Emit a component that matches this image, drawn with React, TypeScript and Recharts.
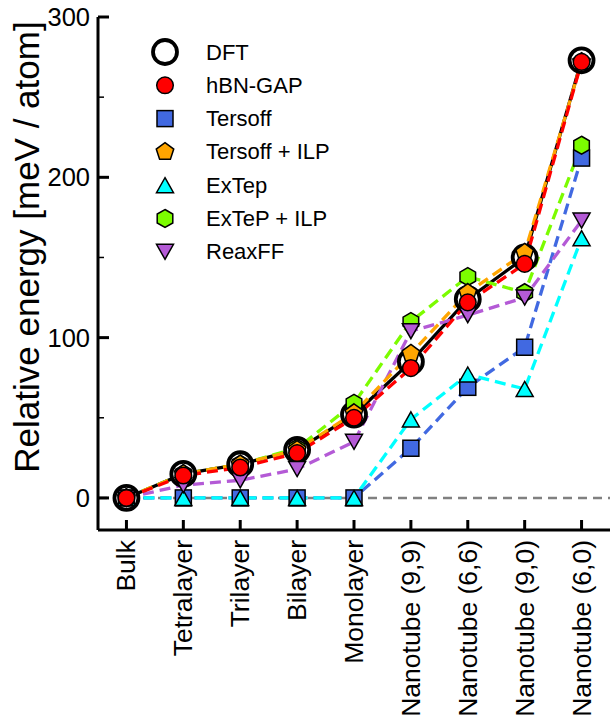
import React from 'react';
import { LineChart, Line, XAxis, YAxis, ReferenceLine, Legend } from 'recharts';

const categories = ['Bulk', 'Tetralayer', 'Trilayer', 'Bilayer', 'Monolayer', 'Nanotube (9,9)', 'Nanotube (6,6)', 'Nanotube (9,0)', 'Nanotube (6,0)'];
const dft = [0, 15, 21, 30, 52, 85, 124, 150, 273];
const hbnGap = [0, 14, 19, 28, 50, 81, 122, 146, 272];
const tersoff = [0, 0, 0, 0, 0, 31, 69, 94, 212];
const tersoffIlp = [0, 15, 21, 30, 53, 90, 128, 153, 272];
const extep = [0, 0, 0, 0, 0, 49, 77, 68, 162];
const extepIlp = [0, 15, 21, 31, 59, 110, 138, 128, 220];
const reaxff = [0, 8, 11, 18, 35, 104, 114, 125, 173];
const yTicks = [0, 50, 100, 150, 200, 250, 300];

const data = categories.map((c, i) => ({
  idx: i,
  name: c,
  dft: dft[i],
  hbnGap: hbnGap[i],
  tersoff: tersoff[i],
  tersoffIlp: tersoffIlp[i],
  extep: extep[i],
  extepIlp: extepIlp[i],
  reaxff: reaxff[i],
}));

const FONT = '"Liberation Sans", Arial, Helvetica, sans-serif';
const PLOT_LEFT = 98;
const PLOT_BOTTOM = 530;

type Kind = 'ring' | 'circle' | 'square' | 'pentagon' | 'triUp' | 'hexagon' | 'triDown';

function poly(cx: number, cy: number, n: number, r: number, startDeg: number) {
  const pts: string[] = [];
  for (let k = 0; k < n; k++) {
    const a = ((startDeg + (360 / n) * k) * Math.PI) / 180;
    pts.push(`${cx + r * Math.cos(a)},${cy + r * Math.sin(a)}`);
  }
  return pts.join(' ');
}

function Marker({ kind, cx, cy, fill }: { kind: Kind; cx: number; cy: number; fill: string }) {
  const sw = 1.5;
  switch (kind) {
    case 'ring':
      return <circle cx={cx} cy={cy} r={12} fill="#fff" stroke="#000" strokeWidth={3.8} />;
    case 'circle':
      return <circle cx={cx} cy={cy} r={8.3} fill={fill} stroke="#000" strokeWidth={sw} />;
    case 'square':
      return <rect x={cx - 8} y={cy - 8} width={16} height={16} fill={fill} stroke="#000" strokeWidth={sw} />;
    case 'pentagon':
      return <polygon points={poly(cx, cy, 5, 9.2, -90)} fill={fill} stroke="#000" strokeWidth={sw} />;
    case 'hexagon':
      return <polygon points={poly(cx, cy, 6, 9, -90)} fill={fill} stroke="#000" strokeWidth={sw} />;
    case 'triUp':
      return (
        <polygon
          points={`${cx},${cy - 7.5} ${cx + 8.5},${cy + 7.5} ${cx - 8.5},${cy + 7.5}`}
          fill={fill}
          stroke="#000"
          strokeWidth={sw}
        />
      );
    case 'triDown':
      return (
        <polygon
          points={`${cx},${cy + 7.5} ${cx + 8.5},${cy - 7.5} ${cx - 8.5},${cy - 7.5}`}
          fill={fill}
          stroke="#000"
          strokeWidth={sw}
        />
      );
  }
  return null;
}

type Series = { key: string; name: string; color: string; kind: Kind; dash?: string };

const seriesDefs: Series[] = [
  { key: 'dft', name: 'DFT', color: '#000000', kind: 'ring' },
  { key: 'hbnGap', name: 'hBN-GAP', color: '#ff0000', kind: 'circle', dash: '11 6' },
  { key: 'tersoff', name: 'Tersoff', color: '#4169e1', kind: 'square', dash: '11 6' },
  { key: 'tersoffIlp', name: 'Tersoff + ILP', color: '#ffa500', kind: 'pentagon', dash: '11 6' },
  { key: 'extep', name: 'ExTep', color: '#00ffff', kind: 'triUp', dash: '11 6' },
  { key: 'extepIlp', name: 'ExTeP + ILP', color: '#7cfc00', kind: 'hexagon', dash: '11 6' },
  { key: 'reaxff', name: 'ReaxFF', color: '#b45ad6', kind: 'triDown', dash: '11 6' },
];

const byKey = (k: string) => seriesDefs.find((s) => s.key === k)!;
const drawOrder = ['dft', 'tersoff', 'extep', 'extepIlp', 'reaxff', 'tersoffIlp', 'hbnGap'].map(byKey);

const LEG_LEFT = 140;
const LEG_TOP = 30;

function renderLegend() {
  return (
    <svg width={240} height={250} style={{ display: 'block', overflow: 'visible' }}>
      {seriesDefs.map((s, i) => {
        const cy = 52 - LEG_TOP + i * 33.3;
        return (
          <g key={s.key}>
            <Marker kind={s.kind} cx={165 - LEG_LEFT} cy={cy} fill={s.color} />
            <text
              x={206 - LEG_LEFT}
              y={cy}
              dominantBaseline="central"
              fontFamily={FONT}
              fontSize={22}
              fill="#000"
            >
              {s.name}
            </text>
          </g>
        );
      })}
    </svg>
  );
}

function XTick(props: any) {
  const { x, payload } = props;
  const label = categories[payload.value];
  return (
    <g>
      <line x1={x} x2={x} y1={PLOT_BOTTOM} y2={PLOT_BOTTOM - 10} stroke="#000" strokeWidth={3} />
      <text
        transform={`translate(${x},${PLOT_BOTTOM + 10}) rotate(-90)`}
        textAnchor="end"
        dominantBaseline="central"
        fontFamily={FONT}
        fontSize={26.5}
        fill="#000"
      >
        {label}
      </text>
    </g>
  );
}

function YTick(props: any) {
  const { y, payload } = props;
  const v = payload.value as number;
  const major = v % 100 === 0;
  return (
    <g>
      <line x1={PLOT_LEFT} x2={PLOT_LEFT + (major ? 11 : 6)} y1={y} y2={y} stroke="#000" strokeWidth={major ? 3 : 1.5} />
      {major && (
        <text x={90} y={y} textAnchor="end" dominantBaseline="central" fontFamily={FONT} fontSize={25.5} fill="#000">
          {v}
        </text>
      )}
    </g>
  );
}

function YLabel() {
  return (
    <text
      transform="translate(26,247) rotate(-90)"
      textAnchor="middle"
      dominantBaseline="central"
      fontFamily={FONT}
      fontSize={35}
      fill="#000"
    >
      Relative energy [meV / atom]
    </text>
  );
}

export default function App() {
  return (
    <div style={{ position: 'fixed', left: 0, top: 0, width: 610, height: 724, background: '#fff' }}>
      <LineChart width={610} height={724} data={data} margin={{ top: 17, right: 0, bottom: 0, left: 0 }}>
        <XAxis
          type="number"
          dataKey="idx"
          domain={[-0.5, 8.5]}
          ticks={categories.map((_, i) => i)}
          interval={0}
          height={194}
          axisLine={{ stroke: '#000', strokeWidth: 3 }}
          tickLine={false}
          tick={<XTick />}
        />
        <YAxis
          type="number"
          domain={[-20, 300]}
          ticks={yTicks}
          interval={0}
          width={98}
          axisLine={{ stroke: '#000', strokeWidth: 3 }}
          tickLine={false}
          tick={<YTick />}
          label={{ content: () => <YLabel /> }}
        />
        <ReferenceLine y={0} stroke="#808080" strokeWidth={2.5} strokeDasharray="9 6" />
        {drawOrder.map((s) => (
          <Line
            key={`line-${s.key}`}
            type="linear"
            dataKey={s.key}
            name={s.name}
            stroke={s.color}
            strokeWidth={3.3}
            strokeDasharray={s.dash}
            isAnimationActive={false}
            legendType="none"
            dot={false}
            activeDot={false}
          />
        ))}
        {drawOrder.map((s) => (
          <Line
            key={`marks-${s.key}`}
            type="linear"
            dataKey={s.key}
            name={s.name}
            stroke="none"
            isAnimationActive={false}
            legendType="none"
            dot={(p: any) => <Marker key={`${s.key}-${p.index}`} kind={s.kind} cx={p.cx} cy={p.cy} fill={s.color} />}
            activeDot={false}
          />
        ))}
        <Legend
          layout="vertical"
          align="center"
          verticalAlign="middle"
          wrapperStyle={{ left: LEG_LEFT, top: LEG_TOP, width: 240, height: 250 }}
          content={renderLegend}
        />
      </LineChart>
    </div>
  );
}
